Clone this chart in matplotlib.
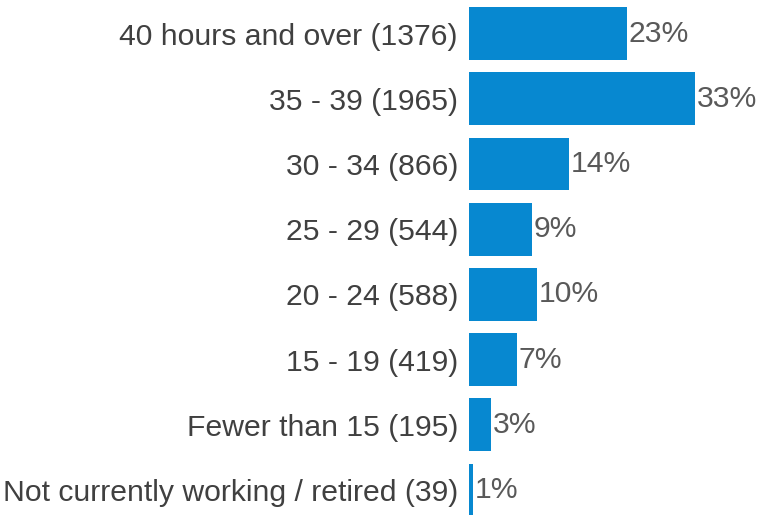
import matplotlib
matplotlib.use("Agg")
import matplotlib.pyplot as plt

# ── Data ───────────────────────────────────────────────────────────────────
categories = [
    "40 hours and over",
    "35 - 39",
    "30 - 34",
    "25 - 29",
    "20 - 24",
    "15 - 19",
    "Fewer than 15",
    "Not currently working / retired",
]
counts = [1376, 1965, 866, 544, 588, 419, 195, 39]

BAR_COLOR = "#0788D0"
LABEL_COLOR = "#404040"
VALUE_COLOR = "#595959"

total = sum(counts)
shares = [c / total * 100 for c in counts]
labels = [f"{cat} ({c})" for cat, c in zip(categories, counts)]

plt.rcParams["font.family"] = ["Liberation Sans", "DejaVu Sans"]

fig = plt.figure(figsize=(7.58, 5.15), dpi=100)
fig.patch.set_facecolor("white")
ax = fig.add_axes([469 / 758, 0.0, 276 / 758, 1.0])

pos = list(range(len(categories)))
ax.barh(pos, shares, height=0.81, color=BAR_COLOR)

for y, v in zip(pos, shares):
    ax.text(v + 0.25, y, f"{v:.0f}%", va="center", ha="left",
            fontsize=21.7, color=VALUE_COLOR)

ax.set_yticks(pos)
ax.set_yticklabels(labels, fontsize=21.7, color=LABEL_COLOR)
ax.tick_params(axis="y", length=0, pad=8)
ax.set_xticks([])
ax.set_xlim(0, 276 / 6.89)
ax.set_ylim(7.383, -0.514)
for s in ax.spines.values():
    s.set_visible(False)

fig.savefig("out.png", dpi=100, facecolor="white")
